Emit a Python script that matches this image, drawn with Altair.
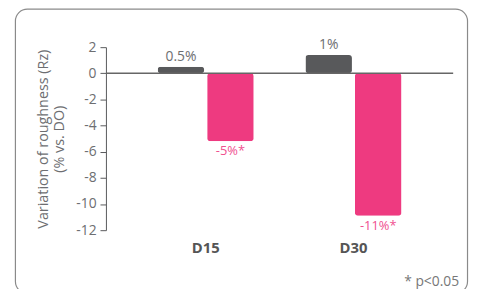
import altair as alt
import pandas as pd

days = ["D15", "D15", "D30", "D30"]
series = ["Control", "Product", "Control", "Product"]
values = [0.5, -5.2, 1.4, -10.9]
labels = ["0.5%", "-5%*", "1%", "-11%*"]
y_ticks = [2, 0, -2, -4, -6, -8, -10, -12]

df = pd.DataFrame({"day": days, "series": series, "value": values, "label": labels})

GRAY = "#58595b"
PINK = "#ee3a80"
TEXT = "#6d6e71"
FONT = "Open Sans"

x_enc = alt.X("day:N", title=None,
              scale=alt.Scale(paddingInner=0.35, paddingOuter=0.35),
              axis=alt.Axis(domain=False, ticks=False, labelAngle=0, labelFontWeight="bold",
                            labelFontSize=15, labelColor="#555555", labelPadding=11, labelFont=FONT))
xoff = alt.XOffset("series:N", scale=alt.Scale(paddingInner=0.06, paddingOuter=0))
y_enc = alt.Y("value:Q", title=["Variation of roughness (Rz)", "(% vs. DO)"],
              scale=alt.Scale(domain=[-12, 2], nice=False),
              axis=alt.Axis(values=y_ticks, grid=False, domainColor=GRAY, tickColor=GRAY,
                            tickSize=6, labelPadding=4, labelFontSize=14, labelColor=TEXT,
                            labelOverlap=False, labelExpr="'' + datum.value",
                            labelFont=FONT, titleFont=FONT, titleFontSize=14.5,
                            titleFontWeight="normal", titleColor=TEXT, titleLineHeight=17,
                            titlePadding=9))
color_enc = alt.Color("series:N", scale=alt.Scale(domain=["Control", "Product"], range=[GRAY, PINK]),
                      legend=None)

base = alt.Chart(df)

bars = base.mark_bar(cornerRadius=3).encode(x=x_enc, xOffset=xoff, y=y_enc, color=color_enc)

zero = alt.Chart(pd.DataFrame({"value": [0]})).mark_rule(color="#666666", strokeWidth=1.5).encode(
    y=y_enc)

pos_text = base.transform_filter("datum.value > 0").mark_text(
    baseline="bottom", dy=-3, fontSize=14, font=FONT).encode(
    x=x_enc, xOffset=xoff, y=y_enc, text="label:N",
    color=alt.value(TEXT))
neg_text = base.transform_filter("datum.value < 0").mark_text(
    baseline="top", dy=4, fontSize=13, font=FONT).encode(
    x=x_enc, xOffset=xoff, y=y_enc, text="label:N",
    color=alt.value("#f0508f"))

foot = alt.Chart(pd.DataFrame({"t": ["* p<0.05"]})).mark_text(
    align="right", baseline="alphabetic", fontSize=14, font=FONT, color="#777777").encode(
    x=alt.value(357), y=alt.value(241), text="t:N")

frame = alt.Chart(pd.DataFrame({"f": [0]})).mark_rect(
    fill="white", fillOpacity=0, stroke="#8a8a8a", strokeWidth=1.2, cornerRadius=12).encode(
    x=alt.value(-91.5), x2=alt.value(365.5), y=alt.value(-38.5), y2=alt.value(249))

chart = alt.layer(frame, bars, zero, pos_text, neg_text, foot).properties(
    width=351, height=185,
    autosize=alt.AutoSizeParams(type="none"),
    padding={"left": 99, "top": 38, "right": 16, "bottom": 70},
).configure_view(stroke=None)

chart.save("out.html", embed_options={"renderer": "svg", "actions": False})
